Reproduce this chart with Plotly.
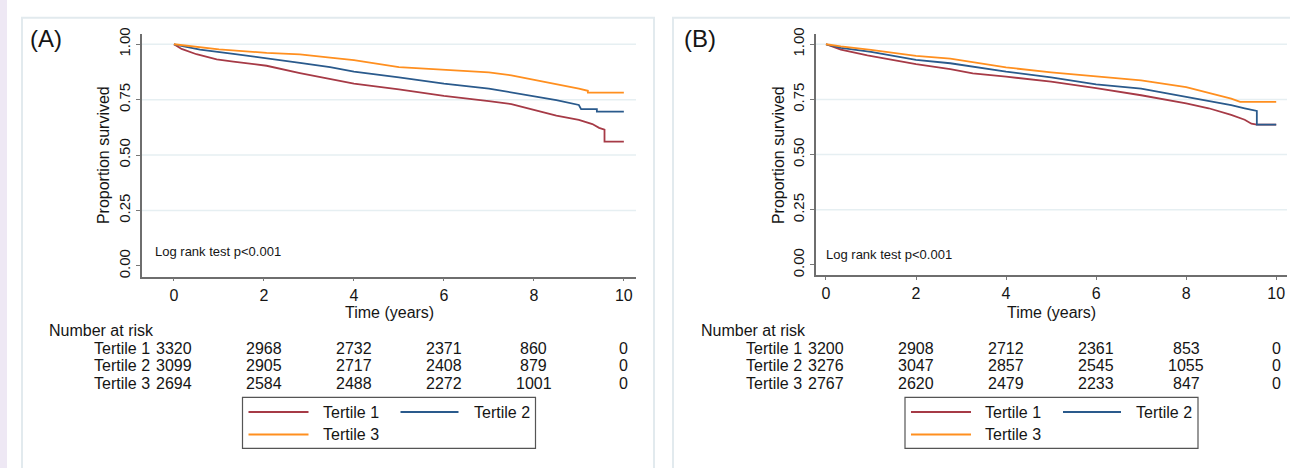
import plotly.graph_objects as go

# ---------------- data ----------------
series_names = ["Tertile 1", "Tertile 2", "Tertile 3"]
series_colors = ["#a63a46", "#2a5a8c", "#ff8f1f"]

# Panel A
a_t1_time = [0, 0.17, 0.5, 0.95, 1.32, 2.06, 2.8, 3.47, 4, 5, 6, 7, 7.5, 8, 8.5, 9, 9.3, 9.45, 9.57, 9.57, 10]
a_t1_surv = [1.0, 0.979, 0.955, 0.932, 0.922, 0.903, 0.870, 0.844, 0.822, 0.796, 0.767, 0.743, 0.730, 0.704, 0.678, 0.659, 0.640, 0.623, 0.615, 0.561, 0.561]
a_t2_time = [0, 0.58, 1.32, 2.06, 2.8, 3.47, 4, 5, 6, 7, 8, 8.5, 9, 9.05, 9.4, 9.4, 10]
a_t2_surv = [1.0, 0.976, 0.957, 0.938, 0.916, 0.897, 0.877, 0.851, 0.822, 0.800, 0.767, 0.748, 0.726, 0.707, 0.707, 0.696, 0.696]
a_t3_time = [0, 0.58, 1.0, 2.06, 2.8, 3.47, 4, 5, 6, 7, 7.5, 8, 8.5, 9, 9.2, 9.2, 10]
a_t3_surv = [1.0, 0.985, 0.977, 0.961, 0.954, 0.940, 0.928, 0.897, 0.885, 0.873, 0.860, 0.841, 0.819, 0.800, 0.790, 0.782, 0.782]

# Panel B
b_t1_time = [0, 0.33, 0.92, 2.0, 2.76, 3.26, 4, 5, 6, 7, 8, 8.5, 9, 9.3, 9.45, 9.57, 10]
b_t1_surv = [1.0, 0.976, 0.950, 0.910, 0.887, 0.868, 0.853, 0.831, 0.801, 0.769, 0.732, 0.710, 0.680, 0.658, 0.640, 0.636, 0.636]
b_t2_time = [0, 0.33, 1.0, 2.0, 2.76, 4, 5, 6, 7, 8, 8.5, 9, 9.3, 9.55, 9.57, 9.57, 10]
b_t2_surv = [1.0, 0.984, 0.965, 0.929, 0.914, 0.876, 0.850, 0.818, 0.799, 0.761, 0.744, 0.724, 0.710, 0.698, 0.698, 0.636, 0.636]
b_t3_time = [0, 0.33, 1.0, 2.0, 2.76, 4, 5, 6, 7, 8, 8.5, 9, 9.2, 10]
b_t3_surv = [1.0, 0.990, 0.975, 0.947, 0.935, 0.895, 0.873, 0.855, 0.836, 0.806, 0.781, 0.754, 0.739, 0.739]

risk_times = [0, 2, 4, 6, 8, 10]
a_risk = [[3320, 2968, 2732, 2371, 860, 0],
          [3099, 2905, 2717, 2408, 879, 0],
          [2694, 2584, 2488, 2272, 1001, 0]]
b_risk = [[3200, 2908, 2712, 2361, 853, 0],
          [3276, 3047, 2857, 2545, 1055, 0],
          [2767, 2620, 2479, 2233, 847, 0]]

x_ticks = [0, 2, 4, 6, 8, 10]
y_ticks = [0, 0.25, 0.5, 0.75, 1.0]
y_ticktext = ["0.00", "0.25", "0.50", "0.75", "1.00"]
panel_labels = ["(A)", "(B)"]
logrank_text = "Log rank test p<0.001"
y_title = "Proportion survived"
x_title = "Time (years)"
risk_header = "Number at risk"

# ---------------- figure ----------------
W, H = 1290, 468
FONT = "Arial, Liberation Sans, sans-serif"
TXT = "#151515"


def px(x):
    return x / W


def py(y):
    return 1 - y / H


fig = go.Figure()

panels = [
    dict(xa="x", ya="y", times=[a_t1_time, a_t2_time, a_t3_time],
         survs=[a_t1_surv, a_t2_surv, a_t3_surv], risk=a_risk),
    dict(xa="x2", ya="y2", times=[b_t1_time, b_t2_time, b_t3_time],
         survs=[b_t1_surv, b_t2_surv, b_t3_surv], risk=b_risk),
]

for p in panels:
    for name, col, t, s in zip(series_names, series_colors, p["times"], p["survs"]):
        fig.add_trace(go.Scatter(x=t, y=s, mode="lines", name=name,
                                 line=dict(color=col, width=1.8),
                                 xaxis=p["xa"], yaxis=p["ya"], showlegend=False,
                                 hoverinfo="skip"))

axis_common_x = dict(tickvals=x_ticks, ticks="outside", ticklen=3,
                     tickcolor="#777", tickwidth=1.2, showline=True, linecolor="#6e6e6e",
                     linewidth=1.5, showgrid=False, zeroline=False,
                     tickfont=dict(family=FONT, size=16, color=TXT))
axis_common_y = dict(tickvals=y_ticks, ticktext=y_ticktext, ticks="outside", ticklen=4,
                     tickcolor="#777", tickwidth=1.2, showline=True, linecolor="#6e6e6e",
                     linewidth=1.5, showgrid=False, zeroline=False, tickangle=-90,
                     tickfont=dict(family=FONT, size=15, color=TXT))

fig.update_layout(
    width=W, height=H, margin=dict(l=0, r=0, t=0, b=0),
    paper_bgcolor="white", plot_bgcolor="white",
    xaxis=dict(axis_common_x, domain=[px(142), px(636)], range=[-0.71, 10.27]),
    yaxis=dict(axis_common_y, domain=[py(275), py(28)], range=[-0.0487, 1.0442], anchor="x"),
    xaxis2=dict(axis_common_x, domain=[px(816), px(1287)], range=[-0.222, 10.24], anchor="y2"),
    yaxis2=dict(axis_common_y, domain=[py(273), py(28)], range=[-0.0444, 1.0444], anchor="x2"),
    showlegend=False,
)

shapes = []
# lavender strip on the left
shapes.append(dict(type="rect", xref="paper", yref="paper", x0=0, x1=px(7), y0=-0.1, y1=1.1,
                   fillcolor="#eee8f4", line=dict(width=0), layer="below"))
# panel borders
shapes.append(dict(type="rect", xref="paper", yref="paper", x0=px(22), x1=px(654),
                   y0=py(480), y1=py(11), line=dict(color="#e2eaee", width=2), layer="below"))
shapes.append(dict(type="rect", xref="paper", yref="paper", x0=px(673), x1=px(1300),
                   y0=py(480), y1=py(11), line=dict(color="#e2eaee", width=2), layer="below"))

ann = []
panel_geo = [
    dict(xa="x", ya="y", label_x=28, ytitle_x=103, logrank=(153, 249)),
    dict(xa="x2", ya="y2", label_x=682, ytitle_x=778, logrank=(824, 252)),
]
row_y = [348, 366, 384]
leg_rows = [413, 436]

for i, (p, g) in enumerate(zip(panels, panel_geo)):
    xa = p["xa"]
    dom = xa + " domain"
    # horizontal gridlines (not at 0)
    for yv in y_ticks[1:]:
        shapes.append(dict(type="line", xref=dom, yref=g["ya"], x0=0, x1=1, y0=yv, y1=yv,
                           line=dict(color="#e6eff2", width=1.5), layer="below"))
    # panel label
    ann.append(dict(text=panel_labels[i], xref="paper", yref="paper", x=px(g["label_x"]),
                    y=py(32), xanchor="left", yanchor="middle", showarrow=False,
                    font=dict(family=FONT, size=24, color=TXT)))
    # y title
    ann.append(dict(text=y_title, xref="paper", yref="paper", x=px(g["ytitle_x"]),
                    y=py(151), xanchor="center", yanchor="middle", textangle=-90,
                    showarrow=False, font=dict(family=FONT, size=16, color=TXT)))
    # x title
    ann.append(dict(text=x_title, xref=dom, yref="paper", x=0.5, y=py(311),
                    xanchor="center", yanchor="middle", showarrow=False,
                    font=dict(family=FONT, size=16, color=TXT)))
    # log rank
    ann.append(dict(text=logrank_text, xref="paper", yref="paper", x=px(g["logrank"][0]),
                    y=py(g["logrank"][1]), xanchor="left", yanchor="middle", showarrow=False,
                    font=dict(family=FONT, size=13, color=TXT)))
    # number at risk
    ann.append(dict(text=risk_header, xref=xa, yref="paper", x=risk_times[0], xshift=-127,
                    y=py(330), xanchor="left", yanchor="middle", showarrow=False,
                    font=dict(family=FONT, size=16, color=TXT)))
    for r, name in enumerate(series_names):
        ann.append(dict(text=name, xref=xa, yref="paper", x=risk_times[0], xshift=-22,
                        y=py(row_y[r]), xanchor="right", yanchor="middle", showarrow=False,
                        font=dict(family=FONT, size=16, color=TXT)))
        for t, v in zip(risk_times, p["risk"][r]):
            ann.append(dict(text=str(v), xref=xa, yref="paper", x=t, y=py(row_y[r]),
                            xanchor="center", yanchor="middle", showarrow=False,
                            font=dict(family=FONT, size=16, color=TXT)))
    # legend box
    shapes.append(dict(type="rect", xref=dom, yref="paper", xsizemode="pixel", xanchor=0.5,
                       x0=-146.5, x1=146.5, y0=py(450), y1=py(398),
                       line=dict(color="#555", width=1.2), fillcolor="white"))
    leg_pos = [(-140.5, -80.5, -68.5, leg_rows[0]),
               (11.5, 69.5, 82.5, leg_rows[0]),
               (-140.5, -80.5, -68.5, leg_rows[1])]
    for name, col, (l0, l1, tx, ry) in zip(series_names, series_colors, leg_pos):
        shapes.append(dict(type="line", xref=dom, yref="paper", xsizemode="pixel", xanchor=0.5,
                           x0=l0, x1=l1, y0=py(ry), y1=py(ry),
                           line=dict(color=col, width=2)))
        ann.append(dict(text=name, xref=dom, yref="paper", x=0.5, xshift=tx, y=py(ry),
                        xanchor="left", yanchor="middle", showarrow=False,
                        font=dict(family=FONT, size=16, color=TXT)))

fig.update_layout(shapes=shapes, annotations=ann)
fig.write_html("out.html")
